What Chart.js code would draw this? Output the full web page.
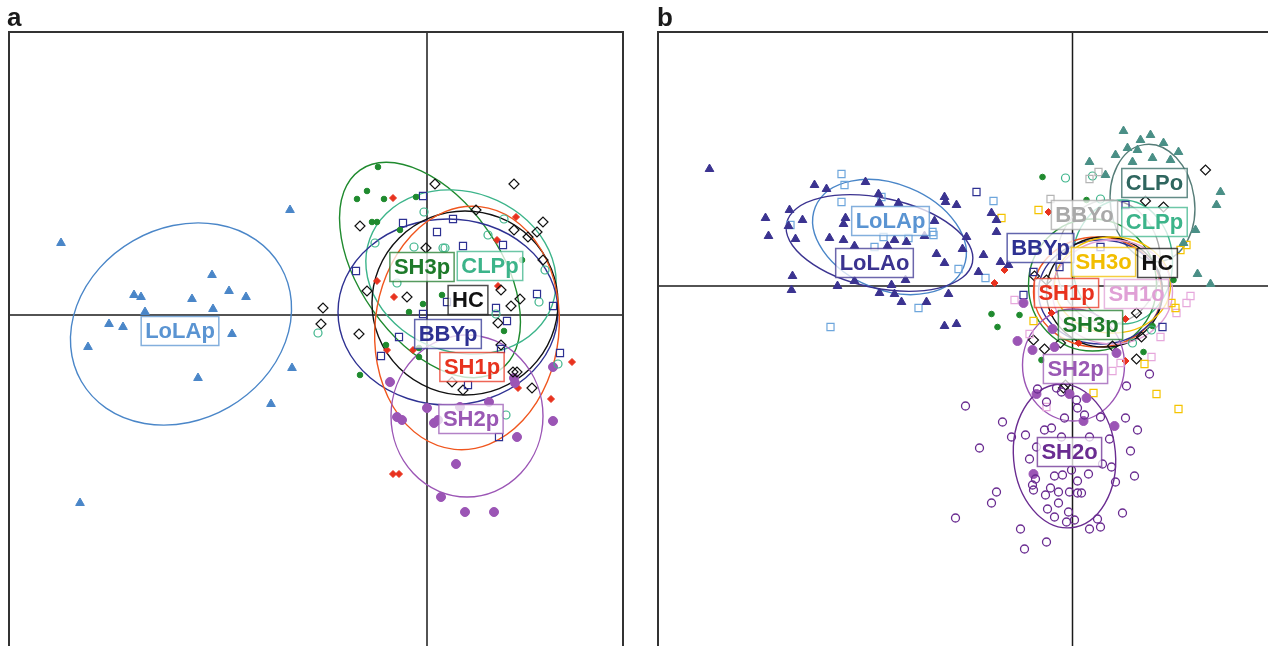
<!DOCTYPE html>
<html><head><meta charset="utf-8">
<script src="https://cdn.jsdelivr.net/npm/chart.js@4/dist/chart.umd.min.js"></script>
<style>
html,body{margin:0;padding:0;background:#fff;overflow:hidden;width:1268px;height:646px;position:relative;}
#ca{position:absolute;left:0;top:0;}
#cb{position:absolute;left:640px;top:0;}
</style></head><body>
<canvas id="ca" width="640" height="700"></canvas>
<canvas id="cb" width="660" height="700"></canvas>
<script>
// ---------------- Panel a data (PC scores) ----------------
const A_LoLAp = [[-1.37,1.05],[-3.66,0.72],[-2.15,0.40],[-2.93,0.20],[-2.86,0.18],[-2.35,0.16],[-1.98,0.24],[-1.81,0.18],[-2.14,0.06],[-2.82,0.03],[-3.18,-0.09],[-3.04,-0.12],[-1.95,-0.19],[-3.39,-0.32],[-1.35,-0.53],[-2.29,-0.63],[-1.56,-0.89],[-3.47,-1.88]];
const A_SH3p = [[-0.49,1.48],[-0.60,1.24],[-0.70,1.16],[-0.43,1.16],[-0.11,1.18],[-0.55,0.93],[-0.50,0.93],[-0.27,0.85],[0.15,0.20],[-0.18,0.03],[-0.04,0.11],[-0.08,-0.33],[0.95,0.55],[0.77,-0.16],[-0.67,-0.60],[-0.08,-0.42],[-0.41,-0.30]];
const A_SH1p = [[-0.34,1.17],[0.89,0.98],[0.70,0.75],[0.71,0.29],[-0.33,0.18],[-0.50,0.34],[-0.40,-0.35],[-0.14,-0.35],[1.45,-0.47],[1.24,-0.84],[-0.34,-1.59],[-0.28,-1.59],[0.91,-0.73]];
const A_BBYp = [[-0.04,1.19],[0.26,0.96],[-0.24,0.92],[0.10,0.83],[0.36,0.69],[0.76,0.70],[-0.71,0.44],[1.10,0.21],[1.26,0.09],[0.69,0.07],[-0.04,0.01],[0.20,0.13],[0.80,-0.06],[-0.28,-0.22],[1.33,-0.38],[-0.46,-0.41],[0.41,-0.70],[0.72,-1.22],[0.74,-0.34]];
const A_HC = [[0.08,1.31],[0.87,1.31],[0.49,1.05],[-0.67,0.89],[1.16,0.93],[0.87,0.85],[1.01,0.78],[1.10,0.83],[-0.01,0.67],[1.16,0.55],[-0.60,0.24],[-0.20,0.18],[0.74,0.25],[0.84,0.09],[0.93,0.16],[-1.04,0.07],[-1.06,-0.09],[-0.68,-0.19],[0.71,-0.08],[0.74,-0.30],[0.86,-0.57],[0.90,-0.57],[0.36,-0.75],[1.05,-0.73],[0.25,-0.67]];
const A_CLPp = [[-0.03,1.03],[0.77,0.96],[-0.52,0.72],[-0.13,0.68],[0.16,0.67],[0.18,0.67],[0.61,0.80],[1.18,0.45],[1.12,0.13],[-1.09,-0.18],[0.69,0.01],[1.31,-0.49],[0.79,-1.00],[-0.30,0.32]];
const A_SH2p = [[-0.37,-0.67],[0.00,-0.93],[-0.30,-1.02],[-0.25,-1.05],[0.07,-1.08],[0.11,-1.05],[0.62,-0.87],[0.88,-0.68],[1.26,-0.52],[1.26,-1.06],[0.90,-1.22],[0.29,-1.49],[0.14,-1.82],[0.38,-1.97],[0.67,-1.97],[0.33,-0.92],[0.87,-0.63]];
// ellipses: group, centre x, centre y, semi-axis 1, semi-axis 2, angle (deg)
const A_ELLIPSES = [
  ['LoLAp',-2.46,-0.09,1.15,0.96,30],
  ['SH3p',0.03,0.45,1.22,0.70,-55],
  ['CLPp',0.34,0.43,0.97,0.80,-20],
  ['BBYp',0.21,0.03,1.10,0.93,0],
  ['HC',0.38,0.12,0.93,0.92,0],
  ['SH1p',0.40,-0.13,0.92,1.22,-6],
  ['SH2p',0.40,-1.01,0.76,0.81,0]
];
// group labels at centroid
const A_LABELS = [['LoLAp',-2.47,-0.16],['SH3p',-0.05,0.48],['CLPp',0.63,0.49],['HC',0.41,0.15],['BBYp',0.21,-0.19],['SH1p',0.45,-0.52],['SH2p',0.44,-1.04]];

// ---------------- Panel b data ----------------
const B_LoLAo = [[-3.63,1.17],[-2.58,1.01],[-2.46,0.97],[-2.07,1.04],[-1.94,0.92],[-1.74,0.83],[-1.93,0.83],[-1.28,0.89],[-1.27,0.84],[-1.16,0.81],[-2.83,0.76],[-2.70,0.66],[-3.07,0.68],[-2.27,0.68],[-2.29,0.62],[-2.84,0.60],[-3.04,0.50],[-2.77,0.47],[-2.43,0.48],[-2.29,0.46],[-2.18,0.40],[-1.85,0.40],[-1.78,0.46],[-1.66,0.44],[-1.48,0.50],[-1.38,0.65],[-1.06,0.49],[-1.10,0.37],[-1.36,0.32],[-1.28,0.23],[-0.89,0.31],[-0.94,0.14],[-2.80,0.10],[-2.81,-0.04],[-2.35,0.00],[-2.18,0.05],[-1.81,0.01],[-1.67,0.06],[-1.93,-0.07],[-1.78,-0.08],[-1.71,-0.16],[-1.46,-0.16],[-1.24,-0.08],[-1.28,-0.40],[-1.16,-0.38],[-0.81,0.73],[-0.76,0.66],[-0.76,0.54],[-0.72,0.24],[-0.64,0.21]];
const B_LoLAp = [[-2.31,1.12],[-2.28,1.01],[-2.31,0.84],[-1.91,0.89],[-2.82,0.61],[-1.89,0.49],[-1.64,0.48],[-1.40,0.54],[-1.39,0.51],[-1.98,0.39],[-1.14,0.17],[-0.87,0.08],[-1.54,-0.22],[-2.42,-0.41],[-0.79,0.85]];
const B_CLPo = [[0.51,1.55],[0.78,1.51],[0.91,1.43],[0.55,1.38],[0.65,1.36],[0.68,1.46],[0.98,1.26],[0.43,1.31],[0.17,1.24],[1.48,0.94],[1.44,0.81],[1.23,0.56],[1.11,0.43],[1.25,0.12],[1.38,0.02],[1.06,1.34],[0.60,1.24],[0.80,1.28],[0.33,1.11]];
const B_CLPp = [[-0.07,1.08],[0.20,1.10],[0.28,0.87],[0.79,-0.44],[0.60,-0.57]];
const B_BBYo = [[0.26,1.14],[0.17,1.07],[-0.22,0.87]];
const B_SH3o = [[-0.71,0.68],[1.14,0.41],[1.08,0.36],[0.99,-0.17],[1.03,-0.22],[0.72,-0.78],[0.84,-1.08],[1.06,-1.23],[0.21,-1.07],[-0.39,-0.35],[-0.34,0.76]];
const B_SH1o = [[1.14,-0.17],[1.04,-0.27],[-0.58,-0.14],[-0.43,-0.48],[0.79,-0.71],[0.40,-0.85],[0.88,-0.51],[0.48,-0.77],[-0.26,-1.21],[1.18,-0.10]];
const B_SH2p = [[-0.55,-0.55],[-0.40,-0.64],[-0.18,-0.61],[-0.20,-0.43],[0.44,-0.67],[-0.36,-1.08],[-0.03,-1.08],[0.14,-1.12],[0.11,-1.35],[0.42,-1.40],[-0.39,-1.88],[-0.49,-0.17]];
const B_SH2o = [[-0.70,-1.36],[-0.61,-1.51],[-0.47,-1.49],[-0.43,-1.73],[-0.36,-1.61],[-0.28,-1.44],[-0.21,-1.42],[-0.11,-1.51],[-0.08,-1.32],[0.05,-1.22],[0.12,-1.29],[0.17,-1.51],[0.28,-1.31],[0.37,-1.53],[0.53,-1.32],[0.54,-1.00],[0.77,-0.88],[0.65,-1.44],[0.58,-1.65],[0.62,-1.90],[0.43,-1.96],[0.39,-1.81],[0.30,-1.78],[0.16,-1.88],[-0.01,-1.84],[-0.10,-1.89],[-0.18,-1.90],[-0.37,-1.93],[-0.40,-1.99],[-0.39,-2.04],[-0.76,-2.06],[-0.81,-2.17],[-0.22,-2.02],[-0.27,-2.09],[-0.14,-2.06],[-0.14,-2.17],[-0.03,-2.06],[0.05,-2.07],[0.09,-2.07],[0.05,-1.95],[-0.25,-2.23],[-0.04,-2.26],[-0.18,-2.31],[-0.06,-2.36],[0.02,-2.34],[0.25,-2.33],[0.28,-2.41],[0.17,-2.43],[0.50,-2.27],[-0.52,-2.43],[-0.26,-2.56],[-0.48,-2.63],[-0.11,-1.06],[-0.16,-1.02],[-0.35,-1.03],[-0.26,-1.16],[0.04,-1.14],[-1.07,-1.20],[-0.93,-1.62],[-1.17,-2.32]];
const B_SH1p = [[-0.24,0.74],[-0.68,0.16],[-0.78,0.03],[-0.21,-0.27],[0.06,-0.57],[0.53,-0.33],[0.53,-0.75]];
const B_SH3p = [[-0.30,1.09],[0.14,0.86],[-0.81,-0.28],[-0.53,-0.29],[-0.75,-0.41],[1.01,0.06],[0.71,-0.66],[0.80,-0.40],[-0.31,-0.74]];
const B_HC = [[1.33,1.16],[-0.38,0.10],[0.91,0.79],[0.73,0.85],[0.64,-0.27],[-0.39,-0.54],[-0.28,-0.63],[-0.12,-0.57],[0.40,-0.60],[0.69,-0.51],[0.64,-0.73],[-0.09,-1.02],[-0.07,-0.99],[-0.26,0.06]];
const B_BBYp = [[-0.96,0.94],[-0.39,0.14],[-0.49,-0.09],[-0.13,0.19],[0.53,0.81],[0.90,-0.41],[0.28,0.39]];
const B_ELLIPSES = [
  ['LoLAp',-1.83,0.49,0.80,0.53,-22],
  ['LoLAo',-1.93,0.43,0.95,0.45,-12],
  ['CLPo',0.80,0.83,0.42,0.59,8],
  ['BBYo',0.36,0.24,0.52,0.62,0],
  ['CLPp',0.50,0.24,0.50,0.62,0],
  ['SH3p',0.20,0.01,0.64,0.66,0],
  ['SH1p',0.25,-0.06,0.64,0.55,0],
  ['BBYp',0.28,-0.06,0.62,0.52,0],
  ['HC',0.32,-0.06,0.58,0.55,0],
  ['SH3o',0.40,0.01,0.58,0.48,0],
  ['SH1o',0.40,-0.06,0.60,0.52,0],
  ['SH2p',0.01,-0.79,0.51,0.56,0],
  ['SH2o',-0.08,-1.70,0.51,0.72,5]
];
const B_LABELS = [['LoLAp',-1.82,0.65],['LoLAo',-1.98,0.23],['CLPo',0.82,1.03],['BBYo',0.12,0.71],['CLPp',0.82,0.64],['BBYp',-0.32,0.38],['SH3o',0.31,0.24],['HC',0.85,0.23],['SH1p',-0.06,-0.07],['SH1o',0.64,-0.08],['SH3p',0.18,-0.39],['SH2p',0.03,-0.83],['SH2o',-0.03,-1.66]];

// ---------------- styles ----------------
const COL = {
  LoLAp:'#4a86c8', LoLAo:'#3b3390', CLPo:'#3f8079', BBYo:'#a9a9a9', CLPp:'#3cb48a',
  BBYp:'#2e3192', SH3o:'#f2be00', HC:'#111111', SH1p:'#e8321e', SH1o:'#e0a0d6',
  SH3p:'#1f8a2e', SH2p:'#9b55b5', SH2o:'#6a2c91'
};
const ELLCOL = Object.assign({}, COL, {SH1p:'#f0561e', CLPo:'#557c77'});
const LABCOL = Object.assign({}, COL, {LoLAp:'#5a94d2', CLPo:'#2f665f', SH3p:'#1e7a2a', SH2p:'#9a58b4'});

function ds(points, color, ps, r, filled, bw){
  return {
    data: points.map(p => ({x:p[0], y:p[1]})),
    pointStyle: ps, pointRadius: r, pointHoverRadius: r,
    backgroundColor: filled ? color : 'rgba(255,255,255,0)',
    borderColor: color, borderWidth: bw || 1.2, showLine:false
  };
}

const A_DATASETS = [
  ds(A_LoLAp, COL.LoLAp, 'triangle', 5, true, 1),
  ds(A_SH3p, COL.SH3p, 'circle', 2.8, true, 1),
  ds(A_CLPp, COL.CLPp, 'circle', 4, false, 1.2),
  ds(A_BBYp, COL.BBYp, 'rect', 5, false, 1.2),
  ds(A_HC, COL.HC, 'rectRot', 5, false, 1.2),
  ds(A_SH2p, COL.SH2p, 'circle', 4.5, true, 1),
  ds(A_SH1p, COL.SH1p, 'rectRot', 3.5, true, 1)
];
const B_DATASETS = [
  ds(B_LoLAo, COL.LoLAo, 'triangle', 5, true, 1),
  ds(B_LoLAp, '#6ea6dc', 'rect', 5, false, 1.2),
  ds(B_CLPo, '#4a8f86', 'triangle', 5, true, 1),
  ds(B_SH2o, COL.SH2o, 'circle', 4, false, 1.3),
  ds(B_SH2p, COL.SH2p, 'circle', 4.5, true, 1),
  ds(B_BBYo, '#b5b5b5', 'rect', 5, false, 1.2),
  ds(B_SH3o, '#f5c400', 'rect', 5, false, 1.2),
  ds(B_SH1o, '#e6a8dc', 'rect', 5, false, 1.2),
  ds(B_CLPp, COL.CLPp, 'circle', 4, false, 1.2),
  ds(B_BBYp, COL.BBYp, 'rect', 5, false, 1.2),
  ds(B_HC, COL.HC, 'rectRot', 5, false, 1.2),
  ds(B_SH3p, COL.SH3p, 'circle', 2.8, true, 1),
  ds(B_SH1p, COL.SH1p, 'rectRot', 3.5, true, 1)
];

const FONT = 'bold 22px "Liberation Sans", Arial, sans-serif';

function pcaPlugin(ellipses, labels, letter, letterX){
  return {
    id:'pca',
    beforeDatasetsDraw(chart){
      const {ctx, chartArea:a, scales:{x, y}} = chart;
      ctx.save();
      ctx.beginPath(); ctx.rect(a.left, a.top, a.right-a.left, a.bottom-a.top); ctx.clip();
      ctx.strokeStyle = '#1a1a1a'; ctx.lineWidth = 1.5;
      const x0 = x.getPixelForValue(0), y0 = y.getPixelForValue(0);
      ctx.beginPath(); ctx.moveTo(x0, a.top); ctx.lineTo(x0, a.bottom); ctx.stroke();
      ctx.beginPath(); ctx.moveTo(a.left, y0); ctx.lineTo(a.right, y0); ctx.stroke();
      ctx.lineWidth = 1.4;
      ellipses.forEach(e => {
        const cx = x.getPixelForValue(e[1]), cy = y.getPixelForValue(e[2]);
        const rx = Math.abs(x.getPixelForValue(e[1]+e[3]) - cx);
        const ry = Math.abs(y.getPixelForValue(e[2]+e[4]) - cy);
        ctx.strokeStyle = ELLCOL[e[0]];
        ctx.beginPath(); ctx.ellipse(cx, cy, rx, ry, -e[5]*Math.PI/180, 0, 2*Math.PI); ctx.stroke();
      });
      ctx.restore();
    },
    afterDatasetsDraw(chart){
      const {ctx, scales:{x, y}} = chart;
      ctx.save();
      ctx.font = FONT; ctx.textAlign = 'center'; ctx.textBaseline = 'middle';
      labels.forEach(l => {
        const px = x.getPixelForValue(l[1]), py = y.getPixelForValue(l[2]);
        const w = ctx.measureText(l[0]).width + 8, h = 29;
        ctx.fillStyle = 'rgba(255,255,255,0.75)';
        ctx.fillRect(px - w/2, py - h/2, w, h);
        ctx.globalAlpha = 0.75; ctx.strokeStyle = LABCOL[l[0]]; ctx.lineWidth = 1.5;
        ctx.strokeRect(px - w/2, py - h/2, w, h);
        ctx.globalAlpha = 1; ctx.fillStyle = LABCOL[l[0]];
        ctx.fillText(l[0], px, py + 1);
      });
      ctx.restore();
    },
    afterDraw(chart){
      const {ctx, chartArea:a} = chart;
      ctx.save();
      ctx.strokeStyle = '#333'; ctx.lineWidth = 2;
      ctx.strokeRect(a.left, a.top, a.right-a.left, a.bottom-a.top);
      ctx.fillStyle = '#1a1a1a'; ctx.font = 'bold 26px "Liberation Sans", Arial, sans-serif';
      ctx.textAlign = 'left'; ctx.textBaseline = 'alphabetic';
      ctx.fillText(letter, letterX, 26);
      ctx.restore();
    }
  };
}

function makeChart(id, datasets, xr, yr, pad, ellipses, labels, letter, letterX){
  return new Chart(document.getElementById(id), {
    type:'scatter',
    data:{datasets},
    options:{
      responsive:false, animation:false, devicePixelRatio:1,
      layout:{padding:pad},
      plugins:{legend:{display:false}, tooltip:{enabled:false}},
      scales:{
        x:{type:'linear', display:false, min:xr[0], max:xr[1]},
        y:{type:'linear', display:false, min:yr[0], max:yr[1]}
      },
      events:[]
    },
    plugins:[pcaPlugin(ellipses, labels, letter, letterX)]
  });
}

makeChart('ca', A_DATASETS, [-4.18, 1.96], [-3.65, 2.83], {left:9, top:32, right:17, bottom:20}, A_ELLIPSES, A_LABELS, 'a', 7);
makeChart('cb', B_DATASETS, [-4.145, 2.175], [-3.94, 2.54], {left:18, top:32, right:10, bottom:20}, B_ELLIPSES, B_LABELS, 'b', 17);
</script>
</body></html>
